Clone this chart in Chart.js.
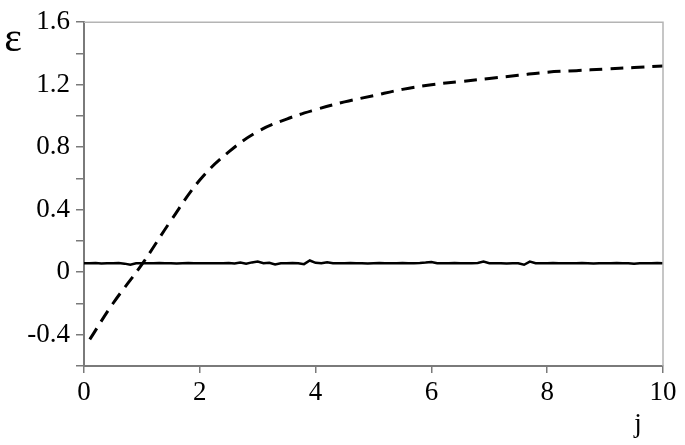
<!DOCTYPE html>
<html>
<head>
<meta charset="utf-8">
<script src="https://cdn.jsdelivr.net/npm/chart.js@4.4.1/dist/chart.umd.min.js"></script>
<style>
  html, body { margin: 0; padding: 0; background: #fff; }
  #wrap { width: 685px; height: 445px; position: relative; }
</style>
</head>
<body>
<div id="wrap"><canvas id="chart"></canvas></div>
<script>
// dashed curve, sampled every 0.5 in j
const dashedJ = [0.1, 0.5, 1, 1.5, 2, 2.5, 3, 3.5, 4, 4.5, 5, 5.5, 6, 6.5, 7, 7.5, 8, 8.5, 9, 9.5, 10];
const dashedE = [-0.43, -0.2, 0.05, 0.33, 0.59, 0.77, 0.9, 0.98, 1.04, 1.09, 1.13, 1.17, 1.2, 1.22, 1.24, 1.26, 1.28, 1.29, 1.3, 1.31, 1.32];

// solid (noisy) line, sampled every 0.1 in j from 0 to 10
const solidE = [
  0.058, 0.057, 0.059, 0.056, 0.058, 0.057, 0.059, 0.055, 0.048, 0.057,
  0.058, 0.057, 0.058, 0.059, 0.057, 0.058, 0.056, 0.058, 0.059, 0.057,
  0.058, 0.057, 0.058, 0.058, 0.057, 0.059, 0.056, 0.062, 0.055, 0.063,
  0.068, 0.058, 0.06, 0.05, 0.058, 0.057, 0.059, 0.058, 0.052, 0.075,
  0.06, 0.057, 0.064, 0.058, 0.057, 0.058, 0.059, 0.057, 0.058, 0.056,
  0.058, 0.059, 0.057, 0.058, 0.057, 0.059, 0.058, 0.057, 0.059, 0.062,
  0.066, 0.058, 0.057, 0.058, 0.059, 0.057, 0.058, 0.057, 0.059, 0.068,
  0.058, 0.057, 0.058, 0.056, 0.058, 0.057, 0.048, 0.068, 0.058, 0.057,
  0.058, 0.059, 0.057, 0.058, 0.058, 0.057, 0.059, 0.058, 0.056, 0.058,
  0.057, 0.058, 0.059, 0.057, 0.058, 0.055, 0.058, 0.057, 0.058, 0.059,
  0.058
];
const solidJ = solidE.map((_, i) => i / 10);

const xTicks = [0, 2, 4, 6, 8, 10];
const yMin = -0.6, yMax = 1.6;

const serif = "'Times New Roman', 'Liberation Serif', Tinos, serif";

const frame = {
  id: 'frame',
  afterDatasetsDraw(chart) {
    const {ctx, chartArea: a} = chart;
    ctx.save();
    ctx.strokeStyle = '#b4b4b4';
    ctx.lineWidth = 1.5;
    ctx.beginPath();
    ctx.moveTo(a.left, a.top);
    ctx.lineTo(a.right, a.top);
    ctx.lineTo(a.right, a.bottom);
    ctx.stroke();
    ctx.fillStyle = '#000';
    ctx.textBaseline = 'middle';
    ctx.textAlign = 'center';
    ctx.font = '42px ' + serif;
    ctx.fillText('ε', 13, 40);
    ctx.font = '27px ' + serif;
    ctx.fillText('j', 638, 425);
    ctx.restore();
  }
};

new Chart(document.getElementById('chart'), {
  type: 'line',
  data: {
    datasets: [
      {
        data: dashedJ.map((j, i) => ({x: j, y: dashedE[i]})),
        borderColor: '#000',
        borderWidth: 3,
        borderDash: [13, 8],
        pointRadius: 0,
        tension: 0.4,
        fill: false
      },
      {
        data: solidJ.map((j, i) => ({x: j, y: solidE[i]})),
        borderColor: '#000',
        borderWidth: 2.5,
        pointRadius: 0,
        tension: 0,
        fill: false
      }
    ]
  },
  options: {
    responsive: true,
    maintainAspectRatio: false,
    animation: false,
    layout: { padding: { left: 0, right: 22, top: 12, bottom: 0 } },
    plugins: { legend: { display: false }, tooltip: { enabled: false } },
    scales: {
      x: {
        type: 'linear',
        min: 0, max: 10,
        afterBuildTicks: s => { s.ticks = xTicks.map(v => ({value: v})); },
        afterFit: s => { s.height = 79; },
        grid: { drawOnChartArea: false, drawTicks: true, tickLength: 7, color: '#7a7a7a', lineWidth: 1.5 },
        border: { display: true, color: '#7a7a7a', width: 2 },
        ticks: { color: '#000', font: { family: serif, size: 27 }, padding: 4, maxRotation: 0, autoSkip: false }
      },
      y: {
        type: 'linear',
        min: yMin, max: yMax,
        afterFit: s => { s.width = 84; },
        grid: { drawOnChartArea: false, drawTicks: true, tickLength: 8, color: '#7a7a7a', lineWidth: 1.5 },
        border: { display: true, color: '#7a7a7a', width: 2 },
        ticks: {
          stepSize: 0.2,
          autoSkip: false,
          color: '#000',
          font: { family: serif, size: 27 },
          padding: 6,
          callback: v => {
            const k = Math.round(v / 0.2);
            if (k % 2 !== 0) return '';
            if (k === 0) return '0';
            return (k * 0.2).toFixed(1);
          }
        }
      }
    }
  },
  plugins: [frame]
});
</script>
</body>
</html>
